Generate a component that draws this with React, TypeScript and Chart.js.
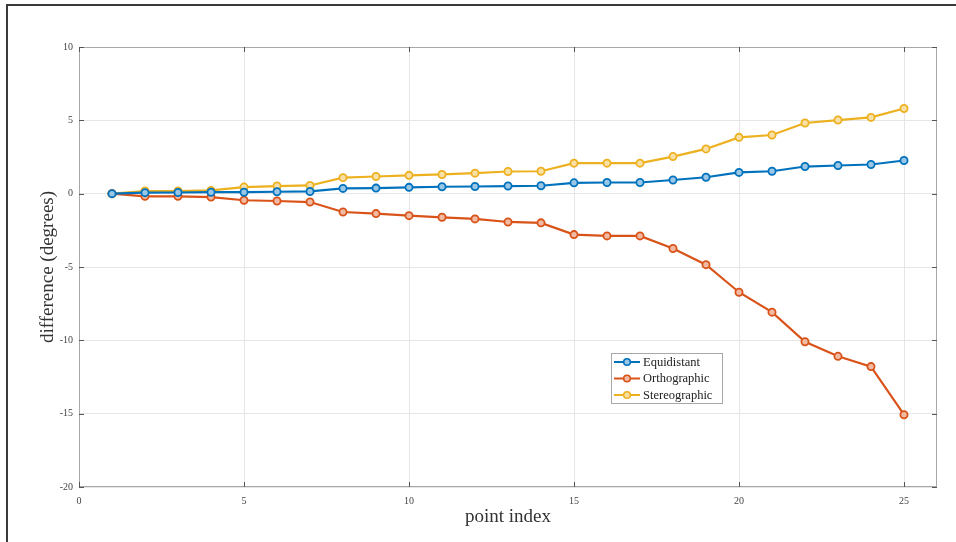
import React, { useEffect, useRef } from "react";
import { Chart, registerables } from "chart.js";

Chart.register(...registerables);

const pointIndex = [1, 2, 3, 4, 5, 6, 7, 8, 9, 10, 11, 12, 13, 14, 15, 16, 17, 18, 19, 20, 21, 22, 23, 24, 25];
const equidistant = [0, 0.07, 0.08, 0.1, 0.1, 0.13, 0.15, 0.36, 0.38, 0.43, 0.47, 0.49, 0.52, 0.54, 0.74, 0.76, 0.76, 0.93, 1.12, 1.45, 1.53, 1.85, 1.92, 1.99, 2.26];
const orthographic = [0, -0.18, -0.18, -0.23, -0.45, -0.5, -0.57, -1.25, -1.36, -1.5, -1.61, -1.72, -1.93, -1.99, -2.79, -2.88, -2.88, -3.74, -4.84, -6.72, -8.08, -10.1, -11.09, -11.79, -15.07];
const stereographic = [0, 0.18, 0.18, 0.22, 0.45, 0.52, 0.56, 1.09, 1.17, 1.25, 1.31, 1.4, 1.51, 1.53, 2.08, 2.08, 2.08, 2.53, 3.05, 3.84, 4.0, 4.82, 5.02, 5.2, 5.81];
const seriesNames = ["Equidistant", "Orthographic", "Stereographic"];
const seriesColors = ["#0072BD", "#D95319", "#EDB120"];
const xTitle = "point index";
const yTitle = "difference (degrees)";

const SERIF = "'Liberation Serif', 'DejaVu Serif', serif";

const boxPlugin = {
  id: "matlabBox",
  afterDatasetsDraw(chart: any) {
    const { ctx, chartArea: a, scales } = chart;
    ctx.save();
    ctx.strokeStyle = "#a8a8a8";
    ctx.lineWidth = 1;
    ctx.strokeRect(a.left + 0.5, a.top + 0.5, a.right - a.left - 1, a.bottom - a.top - 1);
    ctx.strokeStyle = "#555";
    const tl = 5;
    scales.x.ticks.forEach((t: any) => {
      const px = Math.round(scales.x.getPixelForValue(t.value)) + 0.5;
      ctx.beginPath();
      ctx.moveTo(px, a.bottom);
      ctx.lineTo(px, a.bottom - tl);
      ctx.moveTo(px, a.top);
      ctx.lineTo(px, a.top + tl);
      ctx.stroke();
    });
    scales.y.ticks.forEach((t: any) => {
      const py = Math.round(scales.y.getPixelForValue(t.value)) + 0.5;
      ctx.beginPath();
      ctx.moveTo(a.left, py);
      ctx.lineTo(a.left + tl, py);
      ctx.moveTo(a.right, py);
      ctx.lineTo(a.right - tl, py);
      ctx.stroke();
    });
    ctx.restore();
  },
  afterDraw(chart: any) {
    const { ctx } = chart;
    const x0 = 611, y0 = 353, w = 111, h = 50;
    ctx.save();
    ctx.fillStyle = "#fff";
    ctx.fillRect(x0, y0, w, h);
    ctx.strokeStyle = "#a8a8a8";
    ctx.lineWidth = 1;
    ctx.strokeRect(x0 + 0.5, y0 + 0.5, w, h);
    ctx.font = `12.5px ${SERIF}`;
    ctx.textBaseline = "middle";
    chart.data.datasets.forEach((ds: any, i: number) => {
      const yy = y0 + 9 + i * 16.5;
      ctx.strokeStyle = ds.borderColor;
      ctx.lineWidth = 2;
      ctx.beginPath();
      ctx.moveTo(x0 + 3, yy);
      ctx.lineTo(x0 + 29, yy);
      ctx.stroke();
      ctx.beginPath();
      ctx.arc(x0 + 16, yy, 3.3, 0, Math.PI * 2);
      ctx.fillStyle = ds.pointBackgroundColor;
      ctx.fill();
      ctx.lineWidth = 1.6;
      ctx.stroke();
      ctx.fillStyle = "#222";
      ctx.fillText(ds.label, x0 + 32, yy + 0.5);
    });
    ctx.restore();
  },
};

function lighten(hex: string) {
  const r = parseInt(hex.slice(1, 3), 16), g = parseInt(hex.slice(3, 5), 16), b = parseInt(hex.slice(5, 7), 16);
  const m = (c: number) => Math.round(c + (255 - c) * 0.6);
  return `rgb(${m(r)},${m(g)},${m(b)})`;
}

export default function App() {
  const ref = useRef<HTMLCanvasElement>(null);
  useEffect(() => {
    if (!ref.current) return;
    const series = [equidistant, orthographic, stereographic];
    const chart = new Chart(ref.current, {
      type: "line",
      data: {
        datasets: series.map((vals, i) => ({
          label: seriesNames[i],
          data: pointIndex.map((x, k) => ({ x, y: vals[k] })),
          borderColor: seriesColors[i],
          backgroundColor: seriesColors[i],
          pointBackgroundColor: lighten(seriesColors[i]),
          pointBorderColor: seriesColors[i],
          pointRadius: 3.6,
          pointBorderWidth: 1.8,
          borderWidth: 2.2,
          tension: 0,
        })),
      },
      options: {
        animation: false,
        responsive: false,
        maintainAspectRatio: false,
        layout: { padding: { left: 0, top: 47, right: 19, bottom: 0 } },
        plugins: { legend: { display: false }, tooltip: { enabled: false } },
        scales: {
          x: {
            type: "linear",
            min: 0,
            max: 26,
            afterBuildTicks: (s: any) => {
              s.ticks = s.ticks.filter((t: any) => t.value % 5 === 0);
            },
            afterFit: (s: any) => {
              s.height = 55;
            },
            ticks: { stepSize: 5, color: "#444", font: { family: SERIF, size: 10 }, padding: 8, maxRotation: 0 },
            grid: { color: "#e6e6e6", drawTicks: false },
            border: { display: false },
            title: { display: true, text: xTitle, color: "#333", font: { family: SERIF, size: 19 }, padding: { top: 0, bottom: 13.5 } },
          },
          y: {
            type: "linear",
            min: -20,
            max: 10,
            afterFit: (s: any) => {
              s.width = 79;
            },
            ticks: { stepSize: 5, color: "#444", font: { family: SERIF, size: 10 }, padding: 6 },
            grid: { color: "#e6e6e6", drawTicks: false },
            border: { display: false },
            title: { display: true, text: yTitle, color: "#333", font: { family: SERIF, size: 19 }, padding: { top: 37, bottom: 0 } },
          },
        },
      },
      plugins: [boxPlugin],
    } as any);
    return () => chart.destroy();
  }, []);
  return (
    <div style={{ position: "absolute", left: 0, top: 0, width: 956, height: 542, background: "#fff", overflow: "hidden" }}>
      <div style={{ position: "absolute", left: 6, top: 4, width: 949, height: 600, borderLeft: "2px solid #3a3a3a", borderTop: "2px solid #3a3a3a" }} />
      <canvas ref={ref} width={956} height={542} style={{ position: "absolute", left: 0, top: 0 }} />
    </div>
  );
}
